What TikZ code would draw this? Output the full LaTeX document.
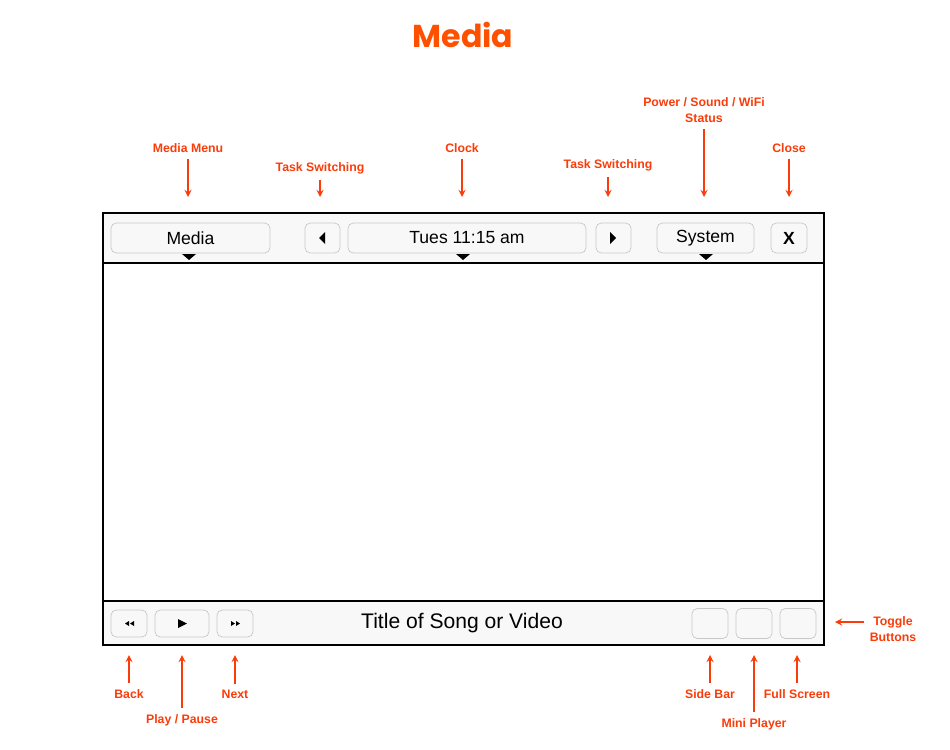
\documentclass[tikz,border=0pt]{standalone}
\usepackage{fontspec}
\setmainfont{Liberation Sans}
\newfontfamily\titlefont{Poppins}
\usetikzlibrary{arrows,calc}
\definecolor{note_red}{RGB}{250, 60, 10}
\definecolor{title_orange}{RGB}{255, 80, 0}
\definecolor{bar_grey}{RGB}{248, 248, 248}
\definecolor{btn_line}{RGB}{200, 200, 200}
\tikzstyle{btn}=[rectangle,rounded corners=3pt,fill=bar_grey,draw=btn_line,
  line width=0.4 pt,inner sep=0pt]
\tikzstyle{note}=[text=note_red,font=\bfseries\fontsize{7}{9.5}\selectfont,align=center]
\tikzstyle{pointer}=[draw=note_red,line width=0.8 pt,-stealth]
\tikzstyle{none}=[]

\begin{document}
\begin{tikzpicture}[x=0.02cm, y=-0.02cm]
		\useasboundingbox (0, 0) rectangle (950, 750);
		\node [style=none, text=title_orange, font=\titlefont\bfseries\fontsize{18}{22}\selectfont] (title) at (463, 35) {Media};
		% frame and bars
		\draw [fill=white, line width=0.8 pt] (103, 213) rectangle (824, 645);
		\draw [fill=bar_grey, line width=0.8 pt] (103, 213) rectangle (824, 263);
		\draw [fill=bar_grey, line width=0.8 pt] (103, 601) rectangle (824, 645);
		% top bar
		\node [style=btn, minimum width=3.18cm, minimum height=0.6cm] (menu) at (190.5, 238) {\fontsize{10}{12}\selectfont Media};
		\node [style=btn, minimum width=0.7cm, minimum height=0.6cm] (prev) at (322.5, 238) {};
		\node [style=btn, minimum width=4.76cm, minimum height=0.6cm] (clock) at (467, 238) {\fontsize{10}{12}\selectfont Tues 11:15 am};
		\node [style=btn, minimum width=0.7cm, minimum height=0.6cm] (next) at (613.5, 238) {};
		\node [style=btn, minimum width=1.94cm, minimum height=0.6cm] (system) at (705.5, 238) {\fontsize{10}{12}\selectfont System};
		\node [style=btn, minimum width=0.72cm, minimum height=0.6cm] (close) at (789, 238) {\bfseries\fontsize{10}{12}\selectfont X};
		\fill (319, 238) -- (325, 232) -- (325, 244) -- cycle;
		\fill (616, 238) -- (610, 232) -- (610, 244) -- cycle;
		\foreach \tx in {189, 463, 706}
			\fill (\tx-7, 254) -- (\tx+7, 254) -- (\tx, 260) -- cycle;
		% bottom bar
		\node [style=btn, minimum width=0.72cm, minimum height=0.54cm] (back) at (129, 623.5) {};
		\node [style=btn, minimum width=1.08cm, minimum height=0.54cm] (play) at (182, 623.5) {};
		\node [style=btn, minimum width=0.72cm, minimum height=0.54cm] (fwd) at (235, 623.5) {};
		\node [style=none] (song) at (462, 623.5) {\fontsize{12}{14}\selectfont Title of Song or Video};
		\node [style=btn, minimum width=0.72cm, minimum height=0.6cm] (side) at (710, 623.5) {};
		\node [style=btn, minimum width=0.72cm, minimum height=0.6cm] (mini) at (754, 623.5) {};
		\node [style=btn, minimum width=0.72cm, minimum height=0.6cm] (full) at (798, 623.5) {};
		\fill (125, 623.5) -- (129, 621) -- (129, 626) -- cycle;
		\fill (130, 623.5) -- (134, 621) -- (134, 626) -- cycle;
		\fill (178, 619) -- (187, 623.5) -- (178, 628) -- cycle;
		\fill (235, 623.5) -- (231, 621) -- (231, 626) -- cycle;
		\fill (240, 623.5) -- (236, 621) -- (236, 626) -- cycle;
		% notes
		\node [style=note] (n_menu) at (188, 148) {Media Menu};
		\node [style=note] (n_task1) at (320, 168) {Task Switching};
		\node [style=note] (n_clock) at (462, 148) {Clock};
		\node [style=note] (n_task2) at (608, 165) {Task Switching};
		\node [style=note] (n_status) at (704, 110) {Power / Sound / WiFi\\Status};
		\node [style=note] (n_close) at (789, 148) {Close};
		\node [style=note] (n_back) at (129, 694) {Back};
		\node [style=note] (n_play) at (182, 720) {Play / Pause};
		\node [style=note] (n_next) at (235, 694) {Next};
		\node [style=note] (n_side) at (710, 694) {Side Bar};
		\node [style=note] (n_mini) at (754, 724) {Mini Player};
		\node [style=note] (n_full) at (797, 694) {Full Screen};
		\node [style=note] (n_toggle) at (893, 629) {Toggle\\Buttons};
		\coordinate (t_menu) at (188, 197);
		\coordinate (t_task1) at (320, 197);
		\coordinate (t_clock) at (462, 197);
		\coordinate (t_task2) at (608, 197);
		\coordinate (t_status) at (704, 197);
		\coordinate (t_close) at (789, 197);
		\coordinate (t_back) at (129, 655);
		\coordinate (t_play) at (182, 655);
		\coordinate (t_next) at (235, 655);
		\coordinate (t_side) at (710, 655);
		\coordinate (t_mini) at (754, 655);
		\coordinate (t_full) at (797, 655);
		\coordinate (t_toggle) at (835, 622);
		\foreach \n in {menu, task1, clock, task2, status, close, back, play, next, side, mini, full}
			\draw [style=pointer] (n_\n) -- (t_\n);
		\draw [style=pointer] (n_toggle.west |- t_toggle) -- (t_toggle);
\end{tikzpicture}
\end{document}
